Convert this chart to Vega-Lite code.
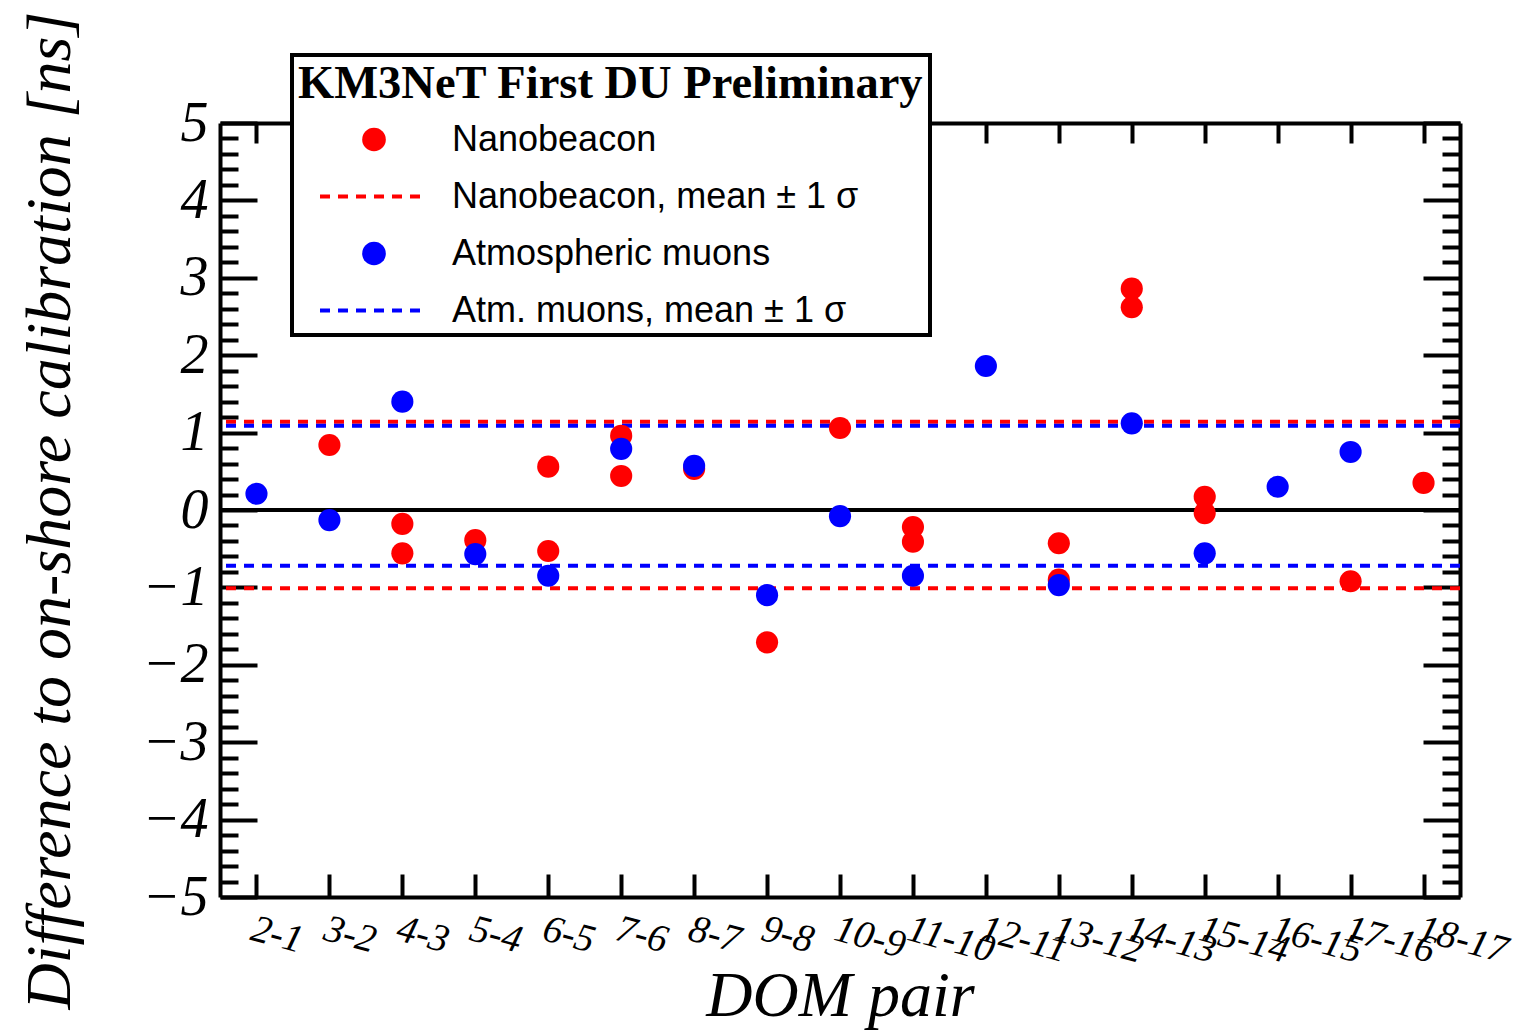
{
  "$schema": "https://vega.github.io/schema/vega-lite/v6.json",
  "width": 1240,
  "height": 774,
  "autosize": {"type": "none"},
  "padding": {"left": 220, "top": 123, "right": 63, "bottom": 139},
  "background": "white",
  "config": {
    "view": {"stroke": null},
    "axis": {"grid": false, "domainColor": "black", "domainWidth": 4, "tickColor": "black", "tickWidth": 4, "labelColor": "black", "titleColor": "black"}
  },
  "datasets": {
    "points": [
      {"pair": "3-2", "series": "Nanobeacon", "diff": 0.84},
      {"pair": "4-3", "series": "Nanobeacon", "diff": -0.18},
      {"pair": "4-3", "series": "Nanobeacon", "diff": -0.56},
      {"pair": "5-4", "series": "Nanobeacon", "diff": -0.39},
      {"pair": "6-5", "series": "Nanobeacon", "diff": 0.56},
      {"pair": "6-5", "series": "Nanobeacon", "diff": -0.53},
      {"pair": "7-6", "series": "Nanobeacon", "diff": 0.96},
      {"pair": "7-6", "series": "Nanobeacon", "diff": 0.44},
      {"pair": "8-7", "series": "Nanobeacon", "diff": 0.53},
      {"pair": "9-8", "series": "Nanobeacon", "diff": -1.71},
      {"pair": "10-9", "series": "Nanobeacon", "diff": 1.06},
      {"pair": "11-10", "series": "Nanobeacon", "diff": -0.22},
      {"pair": "11-10", "series": "Nanobeacon", "diff": -0.41},
      {"pair": "13-12", "series": "Nanobeacon", "diff": -0.43},
      {"pair": "13-12", "series": "Nanobeacon", "diff": -0.9},
      {"pair": "14-13", "series": "Nanobeacon", "diff": 2.86},
      {"pair": "14-13", "series": "Nanobeacon", "diff": 2.62},
      {"pair": "15-14", "series": "Nanobeacon", "diff": 0.17},
      {"pair": "15-14", "series": "Nanobeacon", "diff": -0.04},
      {"pair": "17-16", "series": "Nanobeacon", "diff": -0.92},
      {"pair": "18-17", "series": "Nanobeacon", "diff": 0.35},
      {"pair": "2-1", "series": "Atmospheric muons", "diff": 0.21},
      {"pair": "3-2", "series": "Atmospheric muons", "diff": -0.13},
      {"pair": "4-3", "series": "Atmospheric muons", "diff": 1.4},
      {"pair": "5-4", "series": "Atmospheric muons", "diff": -0.57},
      {"pair": "6-5", "series": "Atmospheric muons", "diff": -0.85},
      {"pair": "7-6", "series": "Atmospheric muons", "diff": 0.79},
      {"pair": "8-7", "series": "Atmospheric muons", "diff": 0.57},
      {"pair": "9-8", "series": "Atmospheric muons", "diff": -1.1},
      {"pair": "10-9", "series": "Atmospheric muons", "diff": -0.08},
      {"pair": "11-10", "series": "Atmospheric muons", "diff": -0.85},
      {"pair": "12-11", "series": "Atmospheric muons", "diff": 1.86},
      {"pair": "13-12", "series": "Atmospheric muons", "diff": -0.97},
      {"pair": "14-13", "series": "Atmospheric muons", "diff": 1.12},
      {"pair": "15-14", "series": "Atmospheric muons", "diff": -0.56},
      {"pair": "16-15", "series": "Atmospheric muons", "diff": 0.3},
      {"pair": "17-16", "series": "Atmospheric muons", "diff": 0.75}
    ],
    "bands": [
      {"series": "Nanobeacon, mean ± 1 σ", "level": 1.14},
      {"series": "Nanobeacon, mean ± 1 σ", "level": -1.01},
      {"series": "Atm. muons, mean ± 1 σ", "level": 1.09},
      {"series": "Atm. muons, mean ± 1 σ", "level": -0.72}
    ],
    "zero": [{"level": 0}]
  },
  "resolve": {"scale": {"y": "independent", "x": "independent"}, "axis": {"y": "independent", "x": "independent"}},
  "layer": [
    {
      "data": {"name": "zero"},
      "mark": {"type": "rule", "color": "black", "strokeWidth": 4},
      "encoding": {
        "y": {
          "field": "level", "type": "quantitative",
          "scale": {"domain": [-5, 5], "nice": false, "zero": false},
          "axis": {
            "orient": "left",
            "values": [-5, -4, -3, -2, -1, 0, 1, 2, 3, 4, 5],
            "format": "d",
            "tickSize": -37,
            "labelPadding": 49,
            "labelFont": "Liberation Serif", "labelFontStyle": "italic", "labelFontSize": 56,
            "title": "Difference to on-shore calibration  [ns]",
            "titleFont": "Liberation Serif", "titleFontStyle": "italic", "titleFontWeight": "normal", "titleFontSize": 64,
            "titlePadding": 60
          }
        }
      }
    },
    {
      "data": {"name": "bands"},
      "mark": {"type": "rule", "strokeWidth": 4, "strokeDash": [10, 8]},
      "encoding": {
        "y": {
          "field": "level", "type": "quantitative",
          "scale": {"domain": [-5, 5], "nice": false, "zero": false},
          "axis": {
            "orient": "right",
            "values": [-5, -4, -3, -2, -1, 0, 1, 2, 3, 4, 5],
            "tickSize": -37, "labels": false, "title": null
          }
        },
        "color": {
          "field": "series", "type": "nominal",
          "scale": {
            "domain": ["Nanobeacon", "Nanobeacon, mean ± 1 σ", "Atmospheric muons", "Atm. muons, mean ± 1 σ"],
            "range": ["#ff0000", "#ff0000", "#0000ff", "#0000ff"]
          },
          "legend": {
            "orient": "none",
            "legendX": 72,
            "legendY": -68,
            "title": "KM3NeT First DU Preliminary",
            "titleFont": "Liberation Serif", "titleFontWeight": "bold", "titleFontSize": 46.5, "titleColor": "black",
            "titleAnchor": "start",
            "titleLimit": 2000,
            "titlePadding": 14,
            "padding": 6,
            "strokeColor": "black",
            "fillColor": "white",
            "labelFont": "Liberation Sans", "labelFontSize": 36, "labelColor": "black",
            "labelLimit": 1000,
            "symbolSize": 900,
            "symbolOffset": 58,
            "labelOffset": 60,
            "rowPadding": 21,
            "encode": {
              "legend": {"update": {"strokeWidth": {"value": 4}}},
              "symbols": {
                "update": {
                  "shape": {"signal": "test(/mean/, datum.value + '') ? 'M-3.6,0L3.6,0' : 'circle'"},
                  "size": {"signal": "test(/mean/, datum.value + '') ? 900 : 560"},
                  "strokeDash": {"signal": "test(/mean/, datum.value + '') ? [10, 8] : [1, 0]"},
                  "strokeWidth": {"signal": "test(/mean/, datum.value + '') ? 4 : 0"},
                  "fill": {"signal": "test(/mean/, datum.value + '') ? 'transparent' : (test(/Nano/, datum.value + '') ? '#ff0000' : '#0000ff')"},
                  "stroke": {"signal": "test(/Nano/, datum.value + '') ? '#ff0000' : '#0000ff'"},
                  "opacity": {"value": 1},
                  "fillOpacity": {"value": 1},
                  "strokeOpacity": {"value": 1}
                }
              }
            }
          }
        }
      }
    },
    {
      "data": {"name": "points"},
      "transform": [{"filter": "datum.series === 'Nanobeacon'"}],
      "mark": {"type": "point", "shape": "circle", "filled": true, "size": 490, "opacity": 1},
      "encoding": {
        "x": {
          "field": "pair", "type": "nominal", "sort": null,
          "scale": {"type": "point", "padding": 0.5, "domain": ["2-1", "3-2", "4-3", "5-4", "6-5", "7-6", "8-7", "9-8", "10-9", "11-10", "12-11", "13-12", "14-13", "15-14", "16-15", "17-16", "18-17"]},
          "axis": {
            "orient": "bottom",
            "tickSize": -23,
            "labelAngle": 15, "labelAlign": "left", "labelBaseline": "top",
            "labelPadding": 35,
            "labelFont": "Liberation Serif", "labelFontStyle": "italic", "labelFontSize": 39,
            "labelOverlap": false,
            "title": "DOM pair",
            "titleFont": "Liberation Serif", "titleFontStyle": "italic", "titleFontWeight": "normal", "titleFontSize": 64,
            "titlePadding": -6
          }
        },
        "y": {
          "field": "diff", "type": "quantitative",
          "scale": {"domain": [-5, 5], "nice": false, "zero": false},
          "axis": {
            "orient": "left",
            "values": [-4.8, -4.6, -4.4, -4.2, -3.8, -3.6, -3.4, -3.2, -2.8, -2.6, -2.4, -2.2, -1.8, -1.6, -1.4, -1.2, -0.8, -0.6, -0.4, -0.2, 0.2, 0.4, 0.6, 0.8, 1.2, 1.4, 1.6, 1.8, 2.2, 2.4, 2.6, 2.8, 3.2, 3.4, 3.6, 3.8, 4.2, 4.4, 4.6, 4.8],
            "tickSize": -18, "labels": false, "domain": false, "title": null
          }
        },
        "color": {"field": "series", "type": "nominal"}
      }
    },
    {
      "data": {"name": "points"},
      "transform": [{"filter": "datum.series === 'Atmospheric muons'"}],
      "mark": {"type": "point", "shape": "circle", "filled": true, "size": 490, "opacity": 1},
      "encoding": {
        "x": {
          "field": "pair", "type": "nominal", "sort": null,
          "scale": {"type": "point", "padding": 0.5, "domain": ["2-1", "3-2", "4-3", "5-4", "6-5", "7-6", "8-7", "9-8", "10-9", "11-10", "12-11", "13-12", "14-13", "15-14", "16-15", "17-16", "18-17"]},
          "axis": {
            "orient": "top",
            "tickSize": -20, "labels": false, "title": null
          }
        },
        "y": {
          "field": "diff", "type": "quantitative",
          "scale": {"domain": [-5, 5], "nice": false, "zero": false},
          "axis": {
            "orient": "right",
            "values": [-4.8, -4.6, -4.4, -4.2, -3.8, -3.6, -3.4, -3.2, -2.8, -2.6, -2.4, -2.2, -1.8, -1.6, -1.4, -1.2, -0.8, -0.6, -0.4, -0.2, 0.2, 0.4, 0.6, 0.8, 1.2, 1.4, 1.6, 1.8, 2.2, 2.4, 2.6, 2.8, 3.2, 3.4, 3.6, 3.8, 4.2, 4.4, 4.6, 4.8],
            "tickSize": -18, "labels": false, "domain": false, "title": null
          }
        },
        "color": {"field": "series", "type": "nominal"}
      }
    }
  ]
}
